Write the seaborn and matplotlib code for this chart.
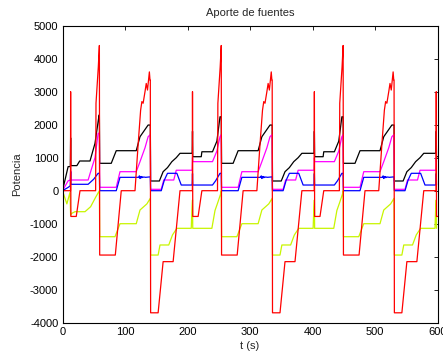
import numpy as np
import pandas as pd
import matplotlib
matplotlib.use("Agg")
import matplotlib.pyplot as plt
import seaborn as sns

# ---- data (one repeating cycle of ~195 s) ----
cycle_starts = [0.0, 195.0, 390.0, 585.0]
t_max = 600.0

red_t = [0, 12.8, 13.0, 13.4, 22, 28, 53, 53.6, 57.3, 59.0, 59.5, 84.5, 94, 116, 121, 125, 127, 129, 132, 134, 136, 139, 140.0, 140.5, 141, 153, 161, 177, 188, 194.9]
red_v = [0, 0, 3000, -780, -780, 0, 0, 2650, 3750, 4400, -1950, -1950, 0, 0, 1400, 2440, 2700, 2650, 3000, 3250, 3050, 3600, 3350, 3350, -3700, -3700, -2150, -2150, 0, 0]

black_t = [0, 12.5, 13.0, 13.4, 27, 28, 45, 52, 57, 59.0, 59.5, 78, 86, 118, 124, 137, 140.5, 141, 155, 161, 168, 175, 182, 188, 194.9]
black_v = [1133, 1133, 1800, 1030, 1030, 1180, 1180, 1500, 2240, 2240, 830, 830, 1212, 1212, 1636, 1990, 1990, 294, 294, 576, 700, 880, 1000, 1133, 1133]
black_start_t = [0, 9, 12.5, 13.0, 13.4, 23, 27.5, 44, 52, 58.5, 59.0]
black_start_v = [0, 730, 730, 1600, 760, 760, 900, 900, 1436, 2294, 2294]

mag_t = [0, 12.5, 13.0, 13.4, 45, 52, 57, 59.0, 59.5, 86, 92, 118, 124, 132, 137, 140.5, 141, 158, 162, 178, 182, 194.9]
mag_v = [620, 620, 1000, 880, 880, 1200, 1636, 1700, 103, 103, 576, 576, 880, 1300, 1636, 1700, 42, 42, 324, 324, 620, 620]
mag_start_t = [0, 9, 12.5, 13.0, 13.4, 41, 45, 52, 57, 59.0]
mag_start_v = [0, 300, 324, 600, 324, 324, 576, 1000, 1740, 1740]

blue_t = [0, 12.5, 13.0, 13.4, 45, 50, 57, 59.0, 59.5, 86, 92, 122, 123, 124, 125, 126, 127, 128, 130, 133, 140.5, 141, 158, 163, 168, 183, 190, 194.9]
blue_v = [172, 172, 520, 172, 172, 300, 527, 527, 0, 0, 405, 405, 450, 370, 430, 390, 430, 400, 415, 405, 420, 0, 0, 324, 527, 527, 172, 172]
blue_start_t = [0, 9, 12.5, 13.0, 13.4, 41, 50, 57, 59.0]
blue_start_v = [0, 100, 150, 576, 194, 194, 350, 527, 527]

yel_t = [0, 11, 12.0, 13.0, 13.4, 44, 49, 53, 58, 59.0, 59.5, 84, 92, 118, 124, 135, 140.5, 141, 153, 156, 170, 176, 183, 194.9]
yel_v = [-1140, -1140, -600, -280, -1140, -1140, -600, -383, -100, 0, -1394, -1394, -1000, -1000, -585, -400, -230, -1950, -1950, -1645, -1645, -1340, -1140, -1140]
yel_start_t = [0, 7, 12, 13.0, 13.4, 20, 36, 45, 53, 59.0]
yel_start_v = [0, -400, -50, -740, -700, -636, -636, -485, -200, 0]

x_ticks = [0, 100, 200, 300, 400, 500, 600]
y_ticks = [-4000, -3000, -2000, -1000, 0, 1000, 2000, 3000, 4000, 5000]
colors = {"black": "#000000", "magenta": "#ff00ff", "blue": "#0000ff",
          "yellow": "#c8f500", "red": "#ff0000"}


def build(name, tt, vv, st=None, sv=None):
    ts, vs = [], []
    if st is not None:
        ts += list(st)
        vs += list(sv)
    for c in cycle_starts:
        for tr, v in zip(tt, vv):
            if c == 0 and st is not None and tr <= st[-1]:
                continue
            t = c + tr
            if t > t_max + 20:
                break
            ts.append(t)
            vs.append(v)
    return pd.DataFrame({"t": ts, "P": vs, "serie": name})


df = pd.concat([
    build("black", black_t, black_v, black_start_t, black_start_v),
    build("magenta", mag_t, mag_v, mag_start_t, mag_start_v),
    build("blue", blue_t, blue_v, blue_start_t, blue_start_v),
    build("yellow", yel_t, yel_v, yel_start_t, yel_start_v),
    build("red", red_t, red_v),
], ignore_index=True)

sns.set_theme(style="white")
plt.rcParams["font.family"] = ["Liberation Sans", "DejaVu Sans"]

fig = plt.figure(figsize=(4.43, 3.51), dpi=100)
ax = fig.add_axes([62.5 / 443, 1 - 322.7 / 351, 375 / 443, 297 / 351])

sns.lineplot(data=df, x="t", y="P", hue="serie",
             hue_order=["black", "magenta", "blue", "yellow", "red"],
             palette=colors, estimator=None, sort=False, linewidth=0.9,
             legend=False, ax=ax)

ax.set_xlim(0, 600)
ax.set_ylim(-4000, 5000)
ax.set_xticks(x_ticks)
ax.set_yticks(y_ticks)
ax.set_xticklabels([str(v) for v in x_ticks])
ax.set_yticklabels([str(v) for v in y_ticks])
ax.tick_params(direction="in", length=3, width=0.6, top=True, right=True,
               labelsize=8, colors="black", pad=3)
for s in ax.spines.values():
    s.set_visible(True)
    s.set_color("black")
    s.set_linewidth(0.8)
ax.set_title("Aporte de fuentes", fontsize=8, pad=7)
ax.set_xlabel("t (s)", fontsize=8, labelpad=3)
ax.set_ylabel("Potencia", fontsize=8, labelpad=6)
ax.grid(False)

fig.savefig("out.png", dpi=100)
